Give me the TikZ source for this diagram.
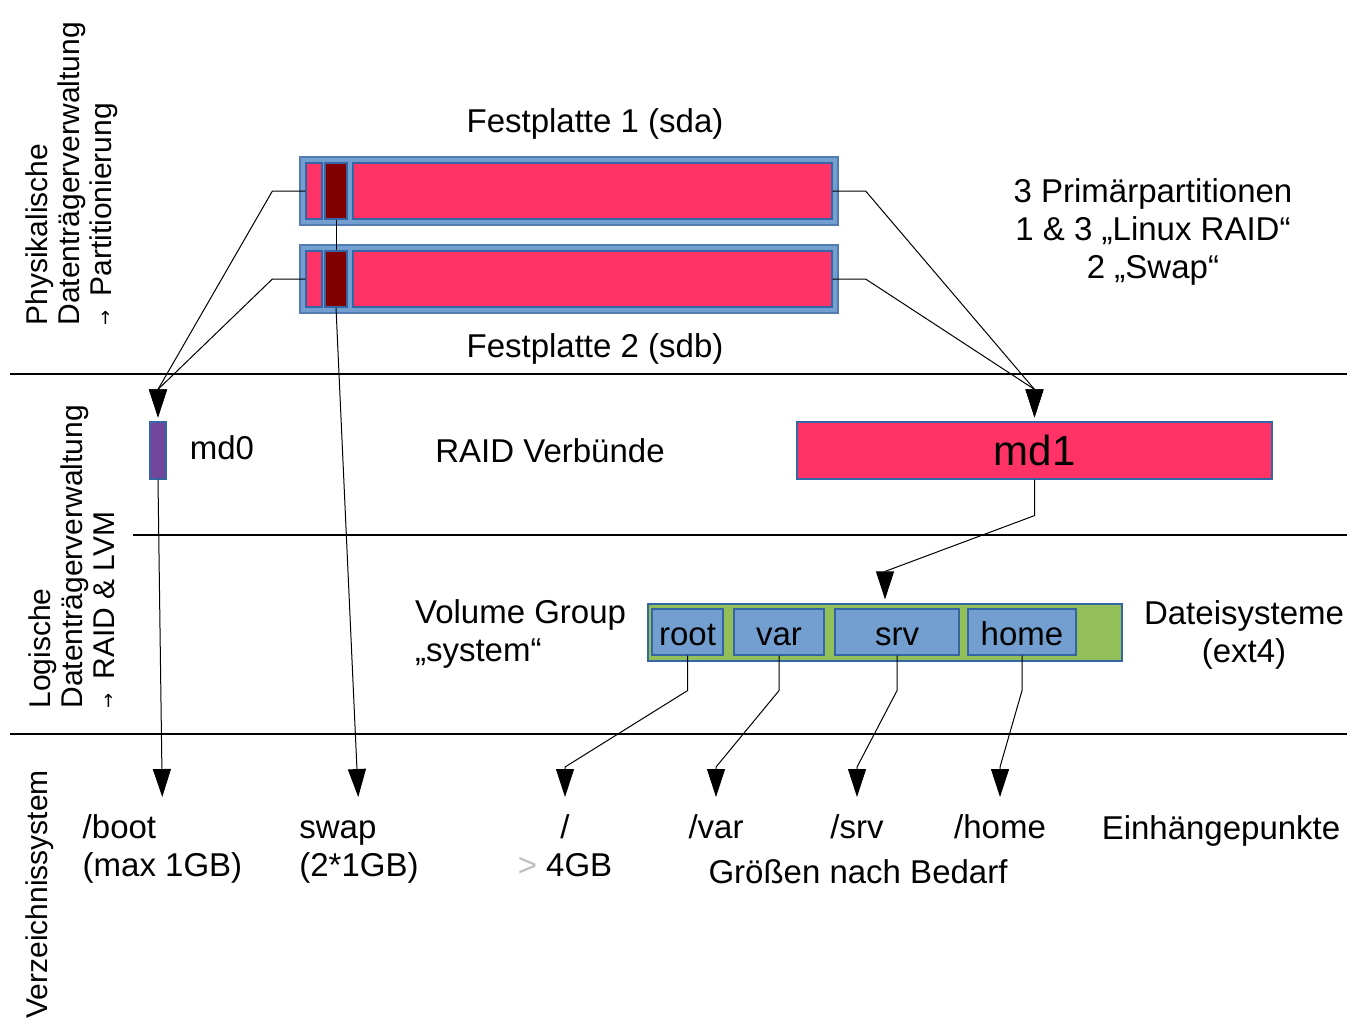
\documentclass[tikz,border=0pt]{standalone}
\usepackage{fontspec}
\setmainfont{Liberation Sans}
\newfontfamily\arrowfont{DejaVu Sans}
\usetikzlibrary{arrows.meta,calc}

\definecolor{lvblue}{HTML}{3465A4}
\definecolor{lvfill}{HTML}{729FCF}
\definecolor{raidpink}{HTML}{FF3366}
\definecolor{swapred}{HTML}{800000}
\definecolor{mdpurple}{HTML}{72479B}
\definecolor{vggreen}{HTML}{92BF58}

\begin{document}
\begin{tikzpicture}[x=0.5pt,y=-0.5pt,
    every node/.style={font=\fontsize{16.5}{19}\selectfont},
    disk/.style={draw=lvblue!85, fill=lvfill, line width=1pt, minimum width=269pt, minimum height=34pt, inner sep=0pt},
    part/.style={draw=lvblue, line width=0.6pt, minimum height=28pt, inner sep=0pt},
    lv/.style={draw=lvblue, fill=lvfill, line width=0.6pt, minimum height=23pt, inner sep=0pt, text height=13pt, text depth=0pt},
    conn/.style={line width=0.5pt, -{Triangle[length=14pt,width=9pt]}},
    divider/.style={line width=0.75pt},
    sidelabel/.style={rotate=90, anchor=west, align=left, inner sep=0pt, font=\fontsize{15}{16}\selectfont},
    mount/.style={anchor=north, inner sep=0pt}]
  \useasboundingbox (0,0) rectangle (1347,1019);

  % Festplatten mit je drei Partitionen
  \foreach \d/\y in {sda/191,sdb/279} {
    \node[disk] (\d) at (569,\y) {};
    \node[part, fill=raidpink, minimum width=8pt] (\d1) at (314,\y) {};
    \node[part, fill=swapred, minimum width=11pt] (\d2) at (336,\y) {};
    \node[part, fill=raidpink, minimum width=239.5pt] (\d3) at (592.5,\y) {};
  }
  \node[] (t1) at (595,124) {Festplatte 1 (sda)};
  \node[] (t2) at (595,349) {Festplatte 2 (sdb)};
  \node[align=center] (prim) at (1153,232) {3 Primärpartitionen\\1 \& 3 „Linux RAID“\\2 „Swap“};

  \draw[divider] (10,374) -- (1347,374);
  \draw[divider] (133,535) -- (1347,535);
  \draw[divider] (10,734) -- (1347,734);

  \node[sidelabel] (phys) at (72,326) {Physikalische\\Datenträgerverwaltung\\{\arrowfont\fontsize{9}{9}\selectfont →}\hspace{7pt}Partitionierung};
  \node[sidelabel] (log) at (72,709) {Logische\\Datenträgerverwaltung\\{\arrowfont\fontsize{9}{9}\selectfont →}\hspace{7pt}RAID \& LVM};
  \node[sidelabel] (vz) at (40,1019) {Verzeichnissystem};

  % RAID
  \node[draw=lvblue, fill=mdpurple, line width=0.6pt, minimum width=8pt, minimum height=28.5pt, inner sep=0pt] (md0) at (158,450.5) {};
  \node[] (md0t) at (222,448) {md0};
  \node[] (raid) at (550,451) {RAID Verbünde};
  \node[draw=lvblue, fill=raidpink, line width=0.6pt, minimum width=237.5pt, minimum height=28.5pt, inner sep=0pt,
        text height=14.5pt, text depth=0pt, font=\fontsize{21}{21}\selectfont] (md1) at (1034.5,450.5) {md1};

  % LVM
  \node[draw=lvblue, fill=vggreen, line width=0.6pt, minimum width=237pt, minimum height=28.5pt, inner sep=0pt] (vg) at (885,632.5) {};
  \foreach \n/\cx/\w in {root/687.5/35.5, var/779/45, srv/897/62, home/1022/54}
    \node[lv, minimum width=\w pt] (\n) at (\cx,632) {\n};
  \node[anchor=west, align=left] (vgt) at (408,634) {Volume Group\\„system“};
  \node[align=center] (fs) at (1244,635) {Dateisysteme\\(ext4)};

  % Einhaengepunkte
  \node[mount, align=left] (mboot) at (162.5,814) {/boot\\(max 1GB)};
  \node[mount, align=left] (mswap) at (359,814) {\vphantom{/}swap\\(2*1GB)};
  \node[mount, align=center] (mroot) at (565,814) {/\\\textcolor{gray!50}{>} 4GB};
  \node[mount] (mvar) at (716,814) {/var};
  \node[mount] (msrv) at (857,814) {/srv};
  \node[mount] (mhome) at (1000,814) {/home};
  \node[] (groesse) at (858,872) {Größen nach Bedarf};
  \node[] (einh) at (1221,831) {Einhängepunkte};

  \draw[conn, shorten >=2pt] (sda1.west) -- ++(-33,0) -- ($(md0.north)+(0,-32)$) -- (md0.north);
  \draw[conn, shorten >=2pt] (sdb1.west) -- ++(-33,0) -- ($(md0.north)+(0,-32)$) -- (md0.north);
  \draw[conn, shorten >=2pt] (sda3.east) -- ++(33,0) -- ($(md1.north)+(0,-32)$) -- (md1.north);
  \draw[conn, shorten >=2pt] (sdb3.east) -- ++(33,0) -- ($(md1.north)+(0,-32)$) -- (md1.north);
  \draw[line width=0.5pt] (sda2.south) -- (sdb2.north);
  \draw[conn, shorten >=8.5pt] (sdb2.south) -- (mswap.north);
  \draw[conn, shorten >=8.5pt] (md0.south) -- (mboot.north);
  \draw[conn, shorten >=2pt] (md1.south) -- ++(0,36) -- ($(vg.north)+(0,-32)$) -- (vg.north);
  \foreach \n/\m in {root/mroot, var/mvar, srv/msrv, home/mhome}
    \draw[conn, shorten >=8.5pt] (\n.south) -- ++(0,35) -- ($(\m.north)+(0,-47)$) -- (\m.north);
\end{tikzpicture}
\end{document}
